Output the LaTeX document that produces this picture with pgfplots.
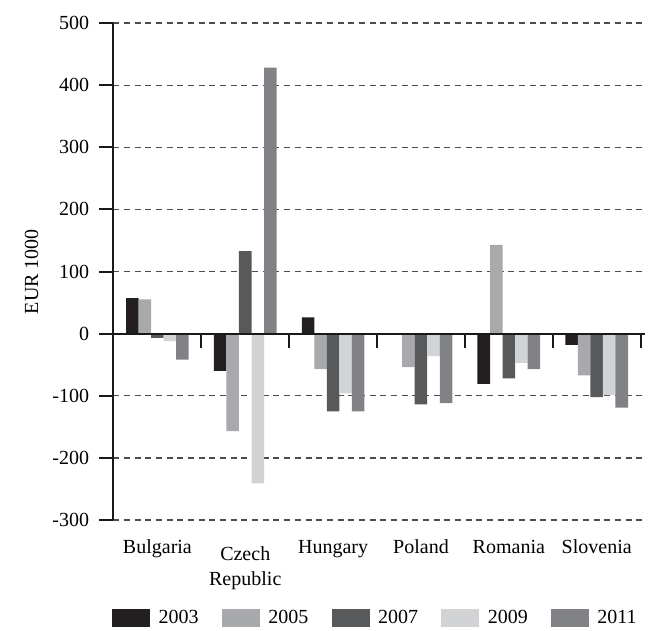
\documentclass[border=0pt]{standalone}
\usepackage{fontspec}
\setmainfont{Liberation Serif}
\usepackage{pgfplots}
\pgfplotsset{compat=1.18}
\definecolor{c03}{HTML}{231F20}
\definecolor{c05}{HTML}{A7A9AC}
\definecolor{c07}{HTML}{58595B}
\definecolor{c09}{HTML}{D1D3D4}
\definecolor{c11}{HTML}{808285}
\begin{document}
\begin{tikzpicture}
\begin{axis}[
  name=ax,
  scale only axis, width=398.6pt, height=372.75pt,
  font=\fontsize{15}{18.75}\selectfont,
  ybar=0pt, bar width=9.4pt,
  xmin=-0.5, xmax=5.55, ymin=-300, ymax=500,
  axis y line*=left, axis x line*=bottom,
  x axis line style={draw=none},
  y axis line style={line width=1.5pt, -, black!90},
  xtick={0,1,2,3,4,5},
  xticklabels={Bulgaria,{\rule{0pt}{15pt}Czech\\Republic},Hungary,Poland,Romania,Slovenia},
  xticklabel style={align=center, text depth=0pt, yshift=-1pt},
  x tick style={draw=none}, major x tick style={draw=none},
  ytick={-300,-200,...,500},
  yticklabels={-300,-200,-100,0,100,200,300,400,500},
  yticklabel style={xshift=-4.3pt},
  y tick style={line width=1.5pt, black!90}, tick align=outside, major tick length=10.5pt,
  ymajorgrids, grid style={line width=0.9pt, black!70, dash pattern=on 4.5pt off 3.5pt},
  ylabel={EUR 1000},
  ylabel style={at={(axis description cs:-0.154,0.5)}, anchor=center},
  clip=false,
  legend style={draw=none, fill=none, at={(0.4937,-0.197)}, anchor=center, legend columns=5,
    /tikz/every odd column/.append style={column sep=4.25pt},
    /tikz/every even column/.append style={column sep=15.5pt}, font=\fontsize{15}{18}\selectfont},
  legend image code/.code={\fill[#1] (0pt,-7pt) rectangle (28.5pt,7pt);},
]
\addplot[fill=c03, draw=none] coordinates {(0,57) (1,-60) (2,26) (3,0) (4,-81) (5,-18)};
\addplot[fill=c05, draw=none] coordinates {(0,55) (1,-157) (2,-57) (3,-54) (4,143) (5,-67)};
\addplot[fill=c07, draw=none] coordinates {(0,-7) (1,133) (2,-125) (3,-114) (4,-72) (5,-102)};
\addplot[fill=c09, draw=none] coordinates {(0,-12) (1,-241) (2,-96) (3,-36) (4,-47) (5,-99)};
\addplot[fill=c11, draw=none] coordinates {(0,-42) (1,428) (2,-125) (3,-112) (4,-57) (5,-119)};
\legend{2003,2005,2007,2009,2011}
\draw[line width=1.6pt, black!90] (axis cs:-0.5,0) -- (axis cs:5.55,0);
\pgfplotsinvokeforeach{0.5,1.5,2.5,3.5,4.5,5.5}{
  \draw[line width=1.5pt, black!90] (axis cs:#1,0) -- ([yshift=-11pt]axis cs:#1,0);
}
\end{axis}
\path ([xshift=-85.1pt, yshift=17.25pt]ax.north west) rectangle ([xshift=8.25pt, yshift=-81pt]ax.south east);
\end{tikzpicture}
\end{document}
